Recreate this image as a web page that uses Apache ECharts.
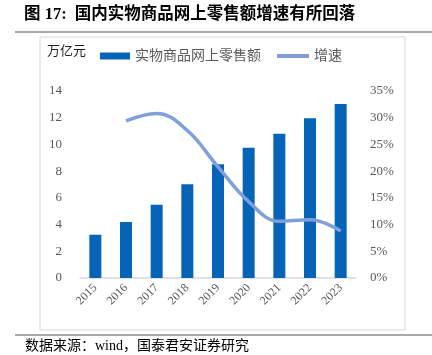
<!DOCTYPE html>
<html><head><meta charset="utf-8">
<script src="https://cdn.jsdelivr.net/npm/echarts@6/dist/echarts.min.js"></script>
<style>html,body{margin:0;padding:0;background:#fff}#c{width:432px;height:355px}</style>
</head><body><div id="c"></div>
<script>
const categories = ['2015','2016','2017','2018','2019','2020','2021','2022','2023'];
const salesValues = [3.24, 4.19, 5.48, 7.02, 8.52, 9.76, 10.8, 11.96, 13.02];
const growthValues = [null, 29.4, 30.8, 27.6, 20.8, 14.3, 10.6, 10.9, 8.8];
const leftTicks = [0, 14, 2];
const rightTicks = [0, 35, 5];
const titleText = '图 17:  国内实物商品网上零售额增速有所回落';
const sourceText = '数据来源：wind，国泰君安证券研究';

const serif = '"Liberation Serif", "Noto Sans CJK SC", serif';
const chart = echarts.init(document.getElementById('c'), null, {renderer: 'canvas'});
chart.setOption({
  animation: false,
  backgroundColor: '#fff',
  graphic: [
    {type: 'text', left: 24, top: 6, style: {text: titleText, fontSize: 16.5, fontWeight: 'bold', fontFamily: serif, fill: '#000'}},
    {type: 'line', shape: {x1: 15, y1: 32, x2: 432, y2: 32}, style: {stroke: '#8c8c8c', lineWidth: 1.5}},
    {type: 'rect', shape: {x: 40, y: 37, width: 365, height: 293}, style: {fill: 'none', stroke: '#d9d9d9', lineWidth: 1}},
    {type: 'text', left: 47, top: 45, style: {text: '万亿元', fontSize: 13, fontFamily: serif, fill: '#222'}},
    {type: 'line', shape: {x1: 15, y1: 335, x2: 432, y2: 335}, style: {stroke: '#8c8c8c', lineWidth: 1.5}},
    {type: 'text', left: 25, top: 339, style: {text: sourceText, fontSize: 14, fontFamily: serif, fill: '#000'}}
  ],
  legend: [
    {left: 95, top: 44, itemWidth: 30, itemHeight: 7,
     textStyle: {color: '#595959', fontSize: 14, fontFamily: serif},
     data: [{name: '实物商品网上零售额', icon: 'rect'}]},
    {left: 272, top: 44, itemWidth: 32, itemHeight: 4,
     textStyle: {color: '#595959', fontSize: 14, fontFamily: serif},
     data: [{name: '增速', icon: 'rect'}]}
  ],
  grid: {left: 80, right: 76, top: 91, bottom: 77},
  xAxis: {
    type: 'category', data: categories,
    axisLine: {lineStyle: {color: '#d9d9d9', width: 1.5}},
    axisTick: {show: false},
    axisLabel: {rotate: 45, color: '#595959', fontSize: 12, fontFamily: serif, margin: 8}
  },
  yAxis: [
    {type: 'value', min: leftTicks[0], max: leftTicks[1], interval: leftTicks[2],
     splitLine: {show: false}, axisLine: {show: false}, axisTick: {show: false},
     axisLabel: {color: '#595959', fontSize: 13, fontFamily: serif, margin: 18}},
    {type: 'value', min: rightTicks[0], max: rightTicks[1], interval: rightTicks[2],
     splitLine: {show: false}, axisLine: {show: false}, axisTick: {show: false},
     axisLabel: {color: '#595959', fontSize: 13, fontFamily: serif, margin: 14, formatter: v => v + '%'}}
  ],
  series: [
    {name: '实物商品网上零售额', type: 'bar', data: salesValues, barWidth: 12,
     itemStyle: {color: '#0563B8'}},
    {name: '增速', type: 'line', yAxisIndex: 1, data: growthValues, smooth: 0.4,
     symbol: 'none', lineStyle: {color: '#7F9EDB', width: 3.5}, itemStyle: {color: '#7F9EDB'}}
  ]
});
</script></body></html>
